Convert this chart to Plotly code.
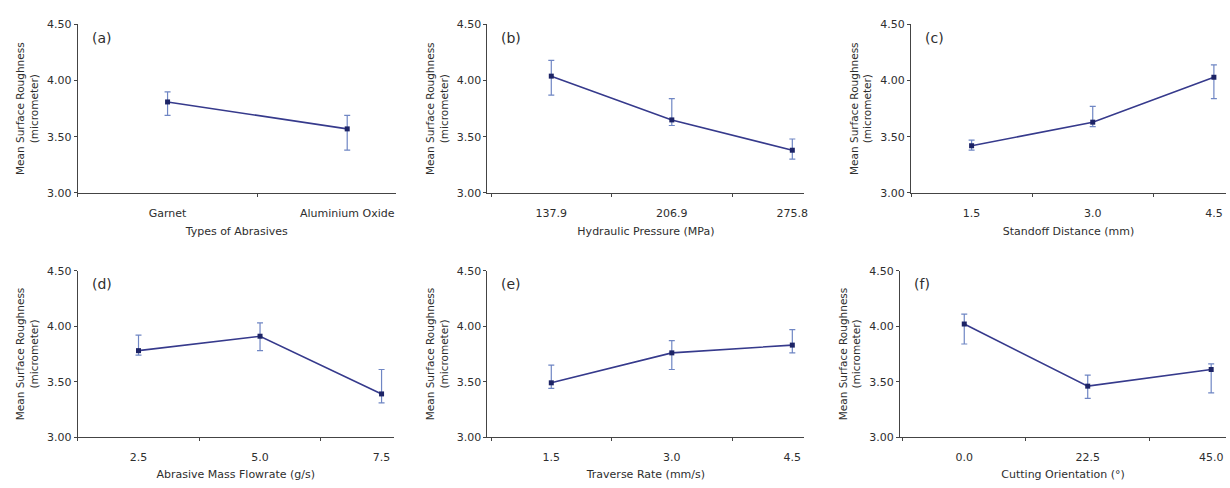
import plotly.graph_objects as go

# ---- data ----
a_cats = ["Garnet", "Aluminium Oxide"]
a_mean = [3.81, 3.57]
a_hi = [3.90, 3.69]
a_lo = [3.69, 3.38]

b_cats = ["137.9", "206.9", "275.8"]
b_mean = [4.04, 3.65, 3.38]
b_hi = [4.18, 3.84, 3.48]
b_lo = [3.87, 3.60, 3.30]

c_cats = ["1.5", "3.0", "4.5"]
c_mean = [3.42, 3.63, 4.03]
c_hi = [3.47, 3.77, 4.14]
c_lo = [3.38, 3.59, 3.84]

d_cats = ["2.5", "5.0", "7.5"]
d_mean = [3.78, 3.91, 3.39]
d_hi = [3.92, 4.03, 3.61]
d_lo = [3.74, 3.78, 3.31]

e_cats = ["1.5", "3.0", "4.5"]
e_mean = [3.49, 3.76, 3.83]
e_hi = [3.65, 3.87, 3.97]
e_lo = [3.44, 3.61, 3.76]

f_cats = ["0.0", "22.5", "45.0"]
f_mean = [4.02, 3.46, 3.61]
f_hi = [4.11, 3.56, 3.66]
f_lo = [3.84, 3.35, 3.40]

y_ticks = [3.00, 3.50, 4.00, 4.50]

panels = [
    ("(a)", "Types of Abrasives", a_cats, a_mean, a_hi, a_lo),
    ("(b)", "Hydraulic Pressure (MPa)", b_cats, b_mean, b_hi, b_lo),
    ("(c)", "Standoff Distance (mm)", c_cats, c_mean, c_hi, c_lo),
    ("(d)", "Abrasive Mass Flowrate (g/s)", d_cats, d_mean, d_hi, d_lo),
    ("(e)", "Traverse Rate (mm/s)", e_cats, e_mean, e_hi, e_lo),
    ("(f)", "Cutting Orientation (°)", f_cats, f_mean, f_hi, f_lo),
]

W, H = 1230, 488
# pixel layout: (x_left, x_right, y_top, y_bottom, xrange)
geom = [
    (78, 397, 19, 192, [-0.5, 1.27]),
    (489, 807, 19, 192, [-0.53, 2.1]),
    (914, 1230, 19, 192, [-0.5, 2.1]),
    (78, 395, 272, 443, [-0.5, 2.1]),
    (489, 807, 272, 443, [-0.53, 2.1]),
    (903, 1230, 272, 443, [-0.52, 2.12]),
]

FONT = "DejaVu Sans, Verdana, sans-serif"
TXT = "#2e2e2e"
LINE = "#363a8c"
MARK = "#1d2466"
ERR = "#6f86c4"
AX = "#444444"

fig = go.Figure()
layout = dict(
    width=W, height=H,
    margin=dict(l=0, r=0, t=0, b=0),
    paper_bgcolor="white", plot_bgcolor="white",
    showlegend=False,
    font=dict(family=FONT, color=TXT, size=11),
)
annotations = []

for i, (lab, xtitle, cats, mean, hi, lo) in enumerate(panels):
    n = i + 1
    xl, xr, yt, yb, xrng = geom[i]
    xs = list(range(len(cats)))
    plus = [h - m for h, m in zip(hi, mean)]
    minus = [m - l for m, l in zip(mean, lo)]
    xa = "x" if n == 1 else f"x{n}"
    ya = "y" if n == 1 else f"y{n}"
    fig.add_trace(go.Scatter(
        x=xs, y=mean, mode="lines+markers",
        line=dict(color=LINE, width=1.6),
        marker=dict(symbol="square", size=5, color=MARK),
        error_y=dict(type="data", symmetric=False, array=plus, arrayminus=minus,
                     color=ERR, thickness=1.2, width=3),
        xaxis=xa, yaxis=ya, cliponaxis=False,
    ))
    xkey = "xaxis" if n == 1 else f"xaxis{n}"
    ykey = "yaxis" if n == 1 else f"yaxis{n}"
    layout[xkey] = dict(
        domain=[xl / W, xr / W], anchor=ya, range=xrng,
        tickmode="array", tickvals=xs, ticktext=cats,
        ticks="", ticklabelstandoff=10,
        showline=True, linecolor=AX, linewidth=1,
        showgrid=False, zeroline=False,
        minor=dict(ticks="outside", ticklen=3, tick0=0.5, dtick=1, tickcolor=AX, showgrid=False),
        tickfont=dict(size=11, color=TXT),
        title=dict(text=xtitle, font=dict(size=11, color=TXT), standoff=8 if n <= 3 else 6),
        fixedrange=True,
    )
    layout[ykey] = dict(
        domain=[1 - yb / H, 1 - yt / H], anchor=xa, range=[3.0, 4.5],
        tickmode="array", tickvals=y_ticks, ticktext=[f"{v:.2f}" for v in y_ticks],
        ticks="outside", ticklen=3, tickcolor=AX,
        showline=True, linecolor=AX, linewidth=1,
        showgrid=False, zeroline=False,
        tickfont=dict(size=11, color=TXT),
        title=dict(text="Mean Surface Roughness<br>(micrometer)", font=dict(size=10.5, color=TXT), standoff=6),
        fixedrange=True,
    )
    annotations.append(dict(
        x=(xl + 12) / W, y=1 - (yt + 14) / H, xref="paper", yref="paper",
        text=lab, showarrow=False, xanchor="left", yanchor="middle",
        font=dict(size=14, color=TXT, family=FONT),
    ))

layout["annotations"] = annotations
fig.update_layout(**layout)
# remove the default page margin so the figure fills the window exactly
fig.write_html(
    "out.html",
    config={"displayModeBar": False},
    post_script="document.body.style.margin='0';document.body.style.overflow='hidden';",
)
